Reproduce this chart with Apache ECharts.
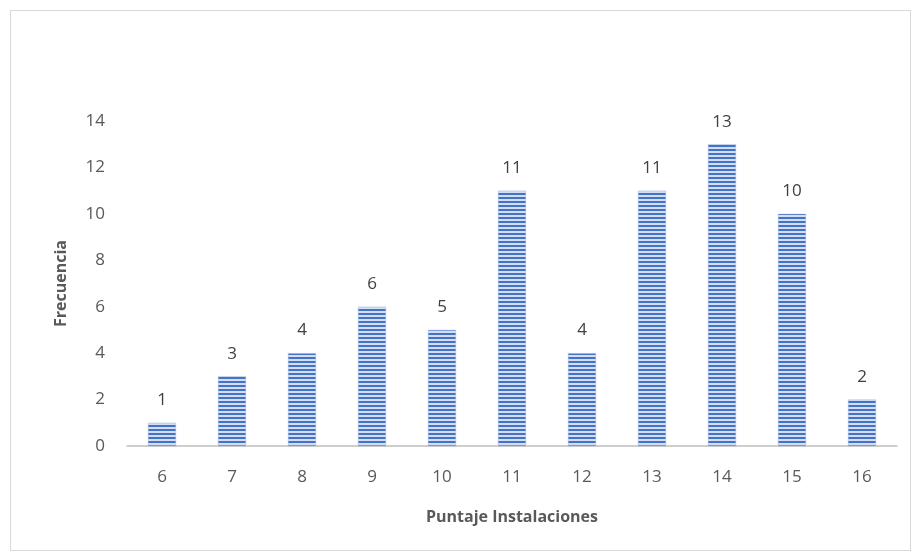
<!DOCTYPE html>
<html>
<head>
<meta charset="utf-8">
<script src="https://cdn.jsdelivr.net/npm/echarts@6/dist/echarts.min.js"></script>
<style>
  html, body { margin: 0; padding: 0; background: #fff; }
  #frame { position: absolute; left: 10px; top: 10px; width: 901px; height: 541px; border: 1px solid #d9d9d9; box-sizing: border-box; }
  #chart { width: 914px; height: 554px; position: absolute; left: 0; top: 0; }
</style>
</head>
<body>
<div id="frame"></div>
<div id="chart"></div>
<script>
// Score categories and their frequencies
const puntajes = ['6', '7', '8', '9', '10', '11', '12', '13', '14', '15', '16'];
const frecuencias = [1, 3, 4, 6, 5, 11, 4, 11, 13, 10, 2];
const ticksY = { min: 0, max: 14, interval: 2 };

// Horizontal stripe fill for the bars
function stripePattern() {
  const c = document.createElement('canvas');
  c.width = 4; c.height = 4;
  const ctx = c.getContext('2d');
  ctx.fillStyle = '#d3def3';
  ctx.fillRect(0, 0, 4, 4);
  ctx.fillStyle = '#4472c4';
  ctx.fillRect(0, 1, 4, 2);
  return c;
}

const chart = echarts.init(document.getElementById('chart'), null, { renderer: 'canvas' });
const font = 'Open Sans, Noto Sans, sans-serif';

chart.setOption({
  animation: false,
  grid: { left: 127, right: 17, top: 121, bottom: 108 },
  xAxis: {
    type: 'category',
    data: puntajes,
    name: 'Puntaje Instalaciones',
    nameLocation: 'middle',
    nameGap: 63,
    nameTextStyle: { color: '#595959', fontSize: 16, fontWeight: 'bold', fontFamily: font },
    axisLine: { lineStyle: { color: '#bfbfbf', width: 1.5 } },
    axisTick: { show: false },
    axisLabel: { color: '#595959', fontSize: 17, margin: 23, fontFamily: font }
  },
  yAxis: {
    type: 'value',
    min: ticksY.min, max: ticksY.max, interval: ticksY.interval,
    name: 'Frecuencia',
    nameLocation: 'middle',
    nameGap: 58,
    nameTextStyle: { color: '#595959', fontSize: 16, fontWeight: 'bold', fontFamily: font },
    splitLine: { show: false },
    axisLine: { show: false },
    axisTick: { show: false },
    axisLabel: { color: '#595959', fontSize: 17, margin: 22, fontFamily: font }
  },
  series: [{
    type: 'bar',
    data: frecuencias,
    barWidth: 28,
    itemStyle: {
      color: { image: stripePattern(), repeat: 'repeat' },
      borderColor: '#9db4e0',
      borderWidth: 0.5
    },
    label: {
      show: true,
      position: 'top',
      distance: 14,
      color: '#404040',
      fontSize: 17,
      fontFamily: font
    }
  }]
});
</script>
</body>
</html>
